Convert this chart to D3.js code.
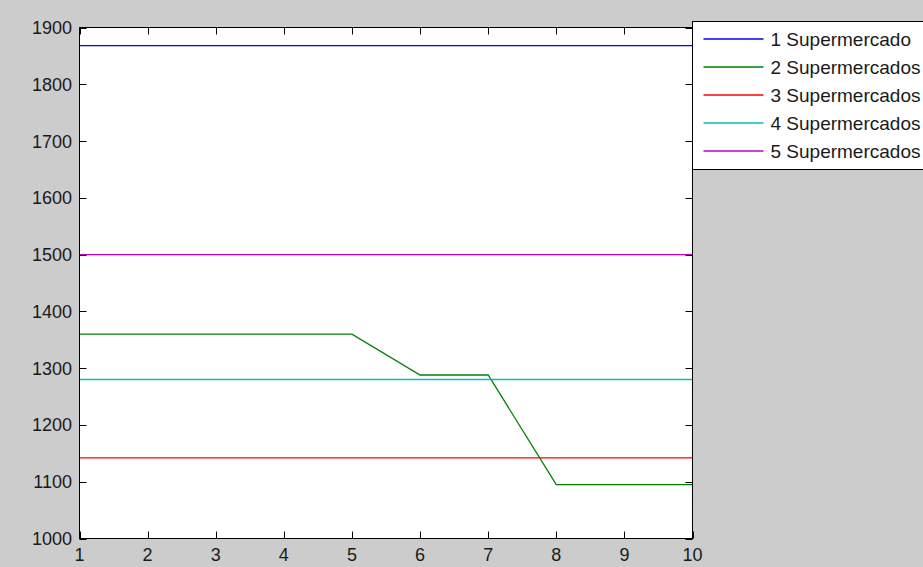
<!DOCTYPE html>
<html lang="es">
<head>
  <meta charset="UTF-8">
  <title>Supermercados</title>
  <script src="https://cdn.jsdelivr.net/npm/d3@7"></script>
  <style>
    body { margin: 0; background: #cccccc; }
    svg { display: block; }
  </style>
</head>
<body>
<script>
  // datos
  const xValues = [1, 2, 3, 4, 5, 6, 7, 8, 9, 10]
  const seriesNames = ['1 Supermercado', '2 Supermercados', '3 Supermercados', '4 Supermercados', '5 Supermercados']
  const s1 = [1868, 1868, 1868, 1868, 1868, 1868, 1868, 1868, 1868, 1868]
  const s2 = [1360, 1360, 1360, 1360, 1360, 1288, 1288, 1095, 1095, 1095]
  const s3 = [1142, 1142, 1142, 1142, 1142, 1142, 1142, 1142, 1142, 1142]
  const s4 = [1280, 1280, 1280, 1280, 1280, 1280, 1280, 1280, 1280, 1280]
  const s5 = [1500, 1500, 1500, 1500, 1500, 1500, 1500, 1500, 1500, 1500]
  const seriesColors = ['#0000ff', '#008000', '#ff0000', '#00bfbf', '#bf00bf']
  const yTicks = [1000, 1100, 1200, 1300, 1400, 1500, 1600, 1700, 1800, 1900]
  const xTicks = [1, 2, 3, 4, 5, 6, 7, 8, 9, 10]

  const series = [s1, s2, s3, s4, s5].map((vals, i) => ({
    name: seriesNames[i],
    color: seriesColors[i],
    points: vals.map((v, j) => [xValues[j], v])
  }))

  const width = 923
  const height = 567
  const plot = {left: 79.5, right: 692.5, top: 27.5, bottom: 538.5}

  const x = d3.scaleLinear().domain([1, 10]).range([plot.left, plot.right])
  const y = d3.scaleLinear().domain([1000, 1900]).range([plot.bottom, plot.top])

  const svg = d3.select('body').append('svg')
    .attr('width', width)
    .attr('height', height)
    .attr('font-family', 'Liberation Sans, Arial, sans-serif')

  svg.append('rect')
    .attr('width', width).attr('height', height)
    .attr('fill', '#cccccc')

  // area del grafico
  svg.append('rect')
    .attr('x', plot.left).attr('y', plot.top)
    .attr('width', plot.right - plot.left)
    .attr('height', plot.bottom - plot.top)
    .attr('fill', '#ffffff')

  const line = d3.line()
    .x(d => x(d[0]))
    .y(d => y(d[1]))

  svg.append('g')
    .attr('fill', 'none')
    .attr('stroke-width', 1.3)
    .selectAll('path')
    .data(series)
    .join('path')
    .attr('stroke', d => d.color)
    .attr('d', d => line(d.points))

  // ejes estilo matlab: ticks hacia dentro en los cuatro lados
  const tickLen = 7
  const axes = svg.append('g').attr('stroke', '#000').attr('stroke-width', 1)

  axes.selectAll('line.xb')
    .data(xTicks)
    .join('line')
    .attr('x1', d => Math.round(x(d)) + 0.5).attr('x2', d => Math.round(x(d)) + 0.5)
    .attr('y1', plot.bottom).attr('y2', plot.bottom - tickLen)
  axes.selectAll('line.xt')
    .data(xTicks)
    .join('line')
    .attr('x1', d => Math.round(x(d)) + 0.5).attr('x2', d => Math.round(x(d)) + 0.5)
    .attr('y1', plot.top).attr('y2', plot.top + tickLen)
  axes.selectAll('line.yl')
    .data(yTicks)
    .join('line')
    .attr('y1', d => Math.round(y(d)) + 0.5).attr('y2', d => Math.round(y(d)) + 0.5)
    .attr('x1', plot.left).attr('x2', plot.left + tickLen)
  axes.selectAll('line.yr')
    .data(yTicks)
    .join('line')
    .attr('y1', d => Math.round(y(d)) + 0.5).attr('y2', d => Math.round(y(d)) + 0.5)
    .attr('x1', plot.right).attr('x2', plot.right - tickLen)

  axes.append('rect')
    .attr('x', plot.left).attr('y', plot.top)
    .attr('width', plot.right - plot.left)
    .attr('height', plot.bottom - plot.top)
    .attr('fill', 'none')

  svg.append('g')
    .attr('font-size', 18)
    .attr('text-anchor', 'middle')
    .attr('fill', '#1a1a1a')
    .selectAll('text')
    .data(xTicks)
    .join('text')
    .attr('x', d => x(d))
    .attr('y', 561)
    .text(d => d)

  svg.append('g')
    .attr('font-size', 18)
    .attr('text-anchor', 'end')
    .attr('fill', '#1a1a1a')
    .selectAll('text')
    .data(yTicks)
    .join('text')
    .attr('x', 72)
    .attr('y', d => y(d))
    .attr('dy', '0.36em')
    .text(d => d)

  // leyenda
  const legend = svg.append('g').attr('transform', 'translate(692.5,21.5)')
  legend.append('rect')
    .attr('width', 260).attr('height', 148)
    .attr('fill', '#ffffff')
    .attr('stroke', '#000')

  const rows = legend.selectAll('g.row')
    .data(series)
    .join('g')
    .attr('transform', (d, i) => `translate(0,${17.5 + i * 28})`)
  rows.append('line')
    .attr('x1', 11).attr('x2', 71)
    .attr('stroke', d => d.color)
    .attr('stroke-width', 1.3)
  rows.append('text')
    .attr('x', 78)
    .attr('dy', '0.36em')
    .attr('font-size', 19)
    .attr('fill', '#1a1a1a')
    .text(d => d.name)
</script>
</body>
</html>
